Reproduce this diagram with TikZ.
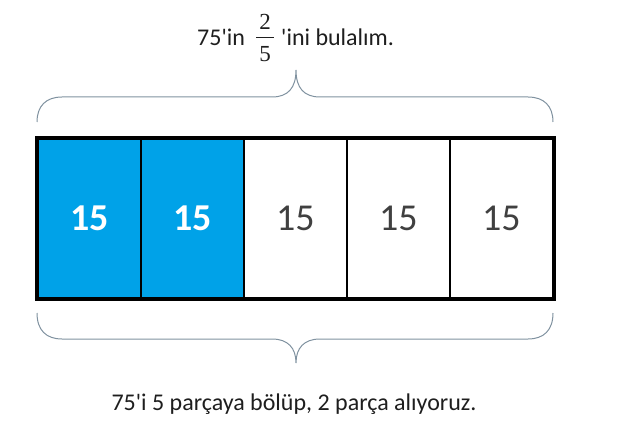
\documentclass[tikz,border=0pt]{standalone}
\usepackage{fontspec}
\setmainfont{Carlito}[Ligatures=TeXOff]
\newfontfamily\fracfont{Liberation Serif}
\definecolor{cellblue}{RGB}{0,162,232}
\definecolor{bracecol}{RGB}{128,146,160}
\definecolor{numgray}{RGB}{64,64,64}
\definecolor{txt}{RGB}{30,30,30}
\begin{document}
\begin{tikzpicture}[x=1pt,y=-1pt,
  cell/.style={draw=black,line width=1.6pt,minimum width=103pt,minimum height=159pt,inner sep=0pt,anchor=north west},
  bluecell/.style={cell,fill=cellblue},
  whitecell/.style={cell,fill=white},
  bnum/.style={font=\fontsize{38}{38}\selectfont\bfseries,text=white},
  wnum/.style={font=\fontsize{38}{38}\selectfont,text=numgray},
  label/.style={font=\fontsize{24}{26}\selectfont,text=txt,inner sep=0pt},
  fracnum/.style={font=\fontsize{23}{23}\selectfont\fracfont,text=txt,inner sep=0pt},
  brace/.style={draw=bracecol,line width=1pt}]
\useasboundingbox (0,0) rectangle (626,422);
% cells
\node[bluecell] (c1) at (37,138) {};
\node[bluecell] (c2) at (140,138) {};
\node[whitecell] (c3) at (243,138) {};
\node[whitecell] (c4) at (346,138) {};
\node[whitecell] (c5) at (449,138) {};
\draw[line width=4pt] (c1.north west) rectangle (c5.south east);
\node[bnum] (n1) at (c1.center) {15};
\node[bnum] (n2) at (c2.center) {15};
\node[wnum] (n3) at (c3.center) {15};
\node[wnum] (n4) at (c4.center) {15};
\node[wnum] (n5) at (c5.center) {15};
% braces
\draw[brace] (37,122) .. controls (37,106) and (46,97) .. (62,97) -- (272,97)
  .. controls (288,97) and (296,88) .. (296,70)
  .. controls (296,88) and (304,97) .. (320,97) -- (528,97)
  .. controls (544,97) and (553,106) .. (553,122);
\draw[brace] (37,313) .. controls (37,330) and (46,339) .. (62,339) -- (272,339)
  .. controls (288,339) and (296,348) .. (296,363)
  .. controls (296,348) and (304,339) .. (320,339) -- (528,339)
  .. controls (544,339) and (553,330) .. (553,313);
% top label
\node[label,anchor=base west] (t1) at (197,46) {75'in};
\node[fracnum] (fn) at (265,22) {2};
\node[fracnum] (fd) at (265,54) {5};
\draw[txt,line width=0.8pt] (256,37.5) -- (274,37.5);
\node[label,anchor=base west] (t2) at (281,46) {'ini bulalım.};
% bottom label
\node[label] (bot) at (294,404) {75'i 5 parçaya bölüp, 2 parça alıyoruz.};
\end{tikzpicture}
\end{document}
